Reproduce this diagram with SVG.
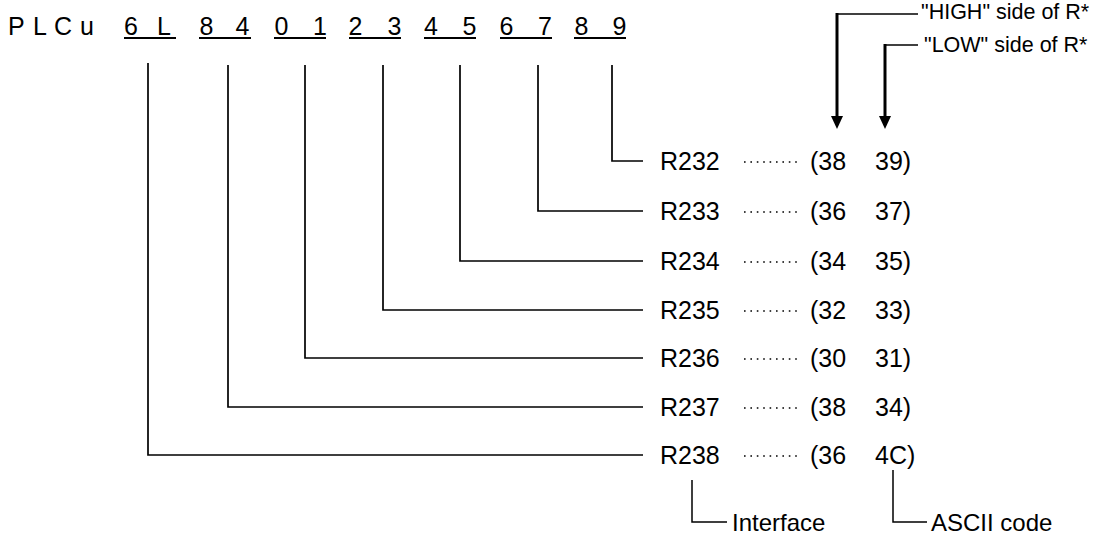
<svg xmlns="http://www.w3.org/2000/svg" width="1093" height="539" viewBox="0 0 1093 539">
<style>
text{font-family:"Liberation Sans",Arial,sans-serif;fill:#000}
.big{font-size:25px}
.top{font-size:25px;text-anchor:middle}
.lbl{font-size:21.5px}
.cl{font-size:24px}
.ln{fill:none;stroke:#000;stroke-width:1.7}
.ul{stroke:#000;stroke-width:2}
.arr{fill:none;stroke:#000;stroke-width:3}
.thin{fill:none;stroke:#000;stroke-width:1.5}
.dots{stroke:#000;stroke-width:1.6;stroke-dasharray:1.6 4.8}
</style>
<rect width="1093" height="539" fill="#fff"/>
<g id="code">
<text class="big" x="8 33 54 80" y="35">PLCu</text>
<text class="top" x="131 164 206.5 242.5 281.5 320 355.5 394.5 431 469.5 506.5 545 581.5 619.5" y="35">6L840123456789</text>
</g>
<g id="underlines">
<line class="ul" x1="124" y1="38" x2="176" y2="38"/>
<line class="ul" x1="199" y1="38" x2="251" y2="38"/>
<line class="ul" x1="274" y1="38" x2="326" y2="38"/>
<line class="ul" x1="349" y1="38" x2="401" y2="38"/>
<line class="ul" x1="424" y1="38" x2="476" y2="38"/>
<line class="ul" x1="500" y1="38" x2="552" y2="38"/>
<line class="ul" x1="574" y1="38" x2="626" y2="38"/>
</g>
<g id="connectors">
<path class="ln" d="M148,63V455H643"/>
<path class="ln" d="M228,65V407H643"/>
<path class="ln" d="M305,65V358H643"/>
<path class="ln" d="M383,65V310H643"/>
<path class="ln" d="M460,65V261H643"/>
<path class="ln" d="M538,65V211H643"/>
<path class="ln" d="M612,65V161H643"/>
<path class="thin" d="M918,14H837"/>
<path class="arr" d="M837,13V118"/>
<polygon points="831,116 843,116 837,129"/>
<path class="thin" d="M918,45H885"/>
<path class="arr" d="M885,44V118"/>
<polygon points="879,116 891,116 885,129"/>
<path class="thin" d="M692,480V522H727"/>
<path class="thin" d="M893,470V522H927"/>
</g>
<g id="row-R232"><text class="big" x="660" y="170">R232</text><line class="dots" x1="744" y1="162" x2="798" y2="162"/><text class="big" x="810" y="170">(38</text><text class="big" x="875" y="170">39)</text></g>
<g id="row-R233"><text class="big" x="660" y="220">R233</text><line class="dots" x1="744" y1="212" x2="798" y2="212"/><text class="big" x="810" y="220">(36</text><text class="big" x="875" y="220">37)</text></g>
<g id="row-R234"><text class="big" x="660" y="270">R234</text><line class="dots" x1="744" y1="262" x2="798" y2="262"/><text class="big" x="810" y="270">(34</text><text class="big" x="875" y="270">35)</text></g>
<g id="row-R235"><text class="big" x="660" y="319">R235</text><line class="dots" x1="744" y1="311" x2="798" y2="311"/><text class="big" x="810" y="319">(32</text><text class="big" x="875" y="319">33)</text></g>
<g id="row-R236"><text class="big" x="660" y="367">R236</text><line class="dots" x1="744" y1="359" x2="798" y2="359"/><text class="big" x="810" y="367">(30</text><text class="big" x="875" y="367">31)</text></g>
<g id="row-R237"><text class="big" x="660" y="416">R237</text><line class="dots" x1="744" y1="408" x2="798" y2="408"/><text class="big" x="810" y="416">(38</text><text class="big" x="875" y="416">34)</text></g>
<g id="row-R238"><text class="big" x="660" y="464">R238</text><line class="dots" x1="744" y1="456" x2="798" y2="456"/><text class="big" x="810" y="464">(36</text><text class="big" x="875" y="464">4C)</text></g>
<g id="label-high"><text class="lbl" x="921" y="19">"HIGH" side of R*</text></g>
<g id="label-low"><text class="lbl" x="924" y="52">"LOW" side of R*</text></g>
<g id="label-interface"><text class="cl" x="732" y="531">Interface</text></g>
<g id="label-ascii"><text class="cl" x="931" y="531">ASCII code</text></g>
</svg>
